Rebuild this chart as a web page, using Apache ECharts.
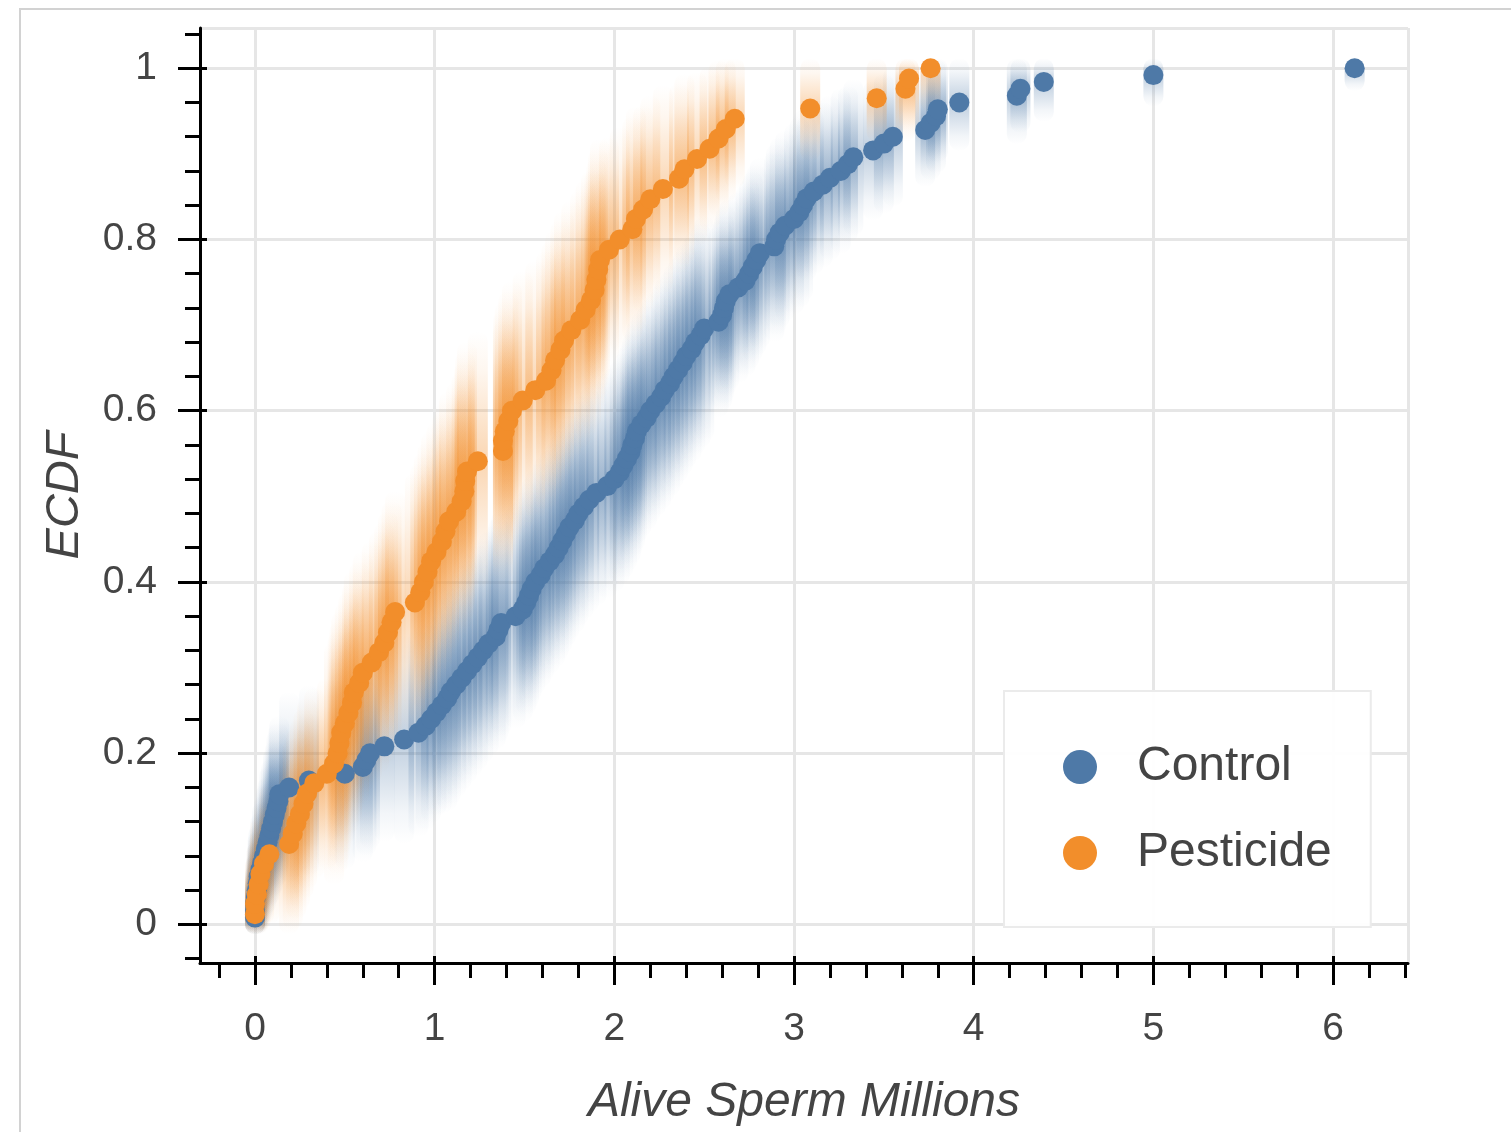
<!DOCTYPE html>
<html>
<head>
<meta charset="utf-8">
<script src="https://cdn.jsdelivr.net/npm/echarts@6/dist/echarts.min.js"></script>
<style>
  html, body { margin: 0; padding: 0; background: #fff; }
  #chart { width: 1511px; height: 1132px; }
</style>
</head>
<body>
<div id="chart"></div>
<script>
// [x, ecdf, spread of the bootstrap column]
var controlPts = [
  [0.0,0.008,0.03],[0.0,0.016,0.03],[0.0,0.024,0.035],[0.005,0.032,0.04],[0.01,0.04,0.045],[0.015,0.048,0.05],[0.02,0.056,0.05],[0.03,0.064,0.055],[0.04,0.072,0.06],[0.05,0.08,0.06],
  [0.06,0.088,0.065],[0.07,0.096,0.065],[0.08,0.104,0.07],[0.09,0.112,0.07],[0.1,0.12,0.075],[0.11,0.128,0.075],[0.12,0.136,0.08],[0.13,0.144,0.08],[0.135,0.152,0.08],[0.19,0.16,0.1],
  [0.3,0.168,0.1],[0.5,0.176,0.1],[0.6,0.184,0.1],[0.62,0.192,0.1],[0.64,0.2,0.1],[0.72,0.208,0.1],[0.83,0.216,0.11],[0.91,0.224,0.11],[0.95,0.232,0.11],[0.98,0.24,0.11],
  [1.01,0.248,0.11],[1.04,0.256,0.115],[1.07,0.264,0.12],[1.09,0.272,0.12],[1.12,0.28,0.12],[1.15,0.288,0.12],[1.18,0.296,0.12],[1.21,0.304,0.12],[1.24,0.312,0.12],[1.27,0.32,0.12],
  [1.3,0.328,0.12],[1.34,0.336,0.12],[1.355,0.344,0.12],[1.37,0.352,0.12],[1.45,0.36,0.12],[1.49,0.368,0.12],[1.51,0.376,0.12],[1.525,0.384,0.12],[1.54,0.392,0.12],[1.56,0.4,0.12],
  [1.59,0.408,0.12],[1.61,0.416,0.12],[1.64,0.424,0.12],[1.67,0.432,0.12],[1.69,0.44,0.12],[1.71,0.448,0.12],[1.73,0.456,0.12],[1.75,0.464,0.12],[1.78,0.472,0.12],[1.8,0.48,0.12],
  [1.83,0.488,0.12],[1.86,0.496,0.12],[1.9,0.504,0.12],[1.96,0.512,0.12],[2.0,0.52,0.12],[2.03,0.528,0.12],[2.05,0.536,0.12],[2.07,0.544,0.12],[2.09,0.552,0.12],[2.1,0.56,0.12],
  [2.115,0.568,0.12],[2.125,0.576,0.12],[2.15,0.584,0.12],[2.18,0.592,0.12],[2.2,0.6,0.12],[2.23,0.608,0.12],[2.26,0.616,0.12],[2.28,0.624,0.12],[2.31,0.632,0.12],[2.33,0.64,0.12],
  [2.355,0.648,0.12],[2.38,0.656,0.12],[2.4,0.664,0.12],[2.43,0.672,0.12],[2.45,0.68,0.12],[2.48,0.688,0.12],[2.5,0.696,0.12],[2.58,0.704,0.1],[2.6,0.712,0.1],[2.61,0.72,0.1],
  [2.62,0.728,0.1],[2.64,0.736,0.1],[2.69,0.744,0.1],[2.73,0.752,0.1],[2.75,0.76,0.1],[2.77,0.768,0.1],[2.79,0.776,0.1],[2.81,0.784,0.1],[2.89,0.792,0.1],[2.9,0.8,0.1],
  [2.92,0.808,0.1],[2.95,0.816,0.1],[3.0,0.824,0.1],[3.03,0.832,0.1],[3.05,0.84,0.1],[3.07,0.848,0.085],[3.11,0.856,0.085],[3.16,0.864,0.085],[3.2,0.872,0.085],[3.26,0.88,0.085],
  [3.3,0.888,0.08],[3.33,0.896,0.08],[3.44,0.904,0.07],[3.5,0.912,0.07],[3.55,0.92,0.07],[3.73,0.928,0.055],[3.76,0.936,0.055],[3.79,0.944,0.055],[3.8,0.952,0.05],[3.92,0.96,0.045],
  [4.24,0.968,0.045],[4.26,0.976,0.04],[4.39,0.984,0.035],[5.0,0.992,0.025],[6.12,1.0,0.015]
];

var pesticidePts = [
  [0.0,0.012,0.04],[0.0,0.024,0.045],[0.01,0.035,0.05],[0.02,0.047,0.05],[0.03,0.059,0.055],[0.05,0.071,0.06],[0.08,0.082,0.07],
  [0.19,0.094,0.1],[0.21,0.106,0.1],[0.23,0.118,0.1],[0.25,0.129,0.1],[0.27,0.141,0.1],[0.29,0.153,0.1],[0.33,0.165,0.1],[0.4,0.176,0.1],
  [0.44,0.188,0.13],[0.46,0.2,0.13],[0.47,0.212,0.13],[0.48,0.224,0.13],[0.5,0.235,0.13],[0.52,0.247,0.13],[0.54,0.259,0.13],[0.55,0.271,0.13],
  [0.58,0.282,0.13],[0.6,0.294,0.13],[0.65,0.306,0.13],[0.69,0.318,0.13],[0.72,0.329,0.13],[0.74,0.341,0.13],[0.76,0.353,0.13],[0.78,0.365,0.13],
  [0.89,0.376,0.14],[0.92,0.388,0.14],[0.94,0.4,0.14],[0.96,0.412,0.14],[0.98,0.424,0.14],[1.01,0.435,0.14],[1.04,0.447,0.14],[1.06,0.459,0.14],
  [1.08,0.471,0.14],[1.12,0.482,0.14],[1.15,0.494,0.14],[1.165,0.506,0.14],[1.17,0.518,0.14],[1.18,0.529,0.14],[1.24,0.541,0.14],
  [1.38,0.553,0.14],[1.38,0.565,0.14],[1.39,0.576,0.14],[1.41,0.588,0.14],[1.43,0.6,0.14],[1.49,0.612,0.14],[1.56,0.624,0.14],[1.62,0.635,0.14],
  [1.65,0.647,0.14],[1.67,0.659,0.14],[1.7,0.671,0.14],[1.72,0.682,0.14],[1.76,0.694,0.14],[1.81,0.706,0.14],[1.84,0.718,0.14],[1.87,0.729,0.14],
  [1.89,0.741,0.13],[1.9,0.753,0.13],[1.91,0.765,0.13],[1.92,0.776,0.13],[1.97,0.788,0.12],[2.03,0.8,0.12],[2.1,0.812,0.12],[2.12,0.824,0.12],
  [2.16,0.835,0.11],[2.2,0.847,0.11],[2.27,0.859,0.11],[2.36,0.871,0.1],[2.39,0.882,0.1],[2.46,0.894,0.09],[2.53,0.906,0.085],[2.58,0.918,0.08],
  [2.62,0.929,0.075],[2.67,0.941,0.07],
  [3.09,0.953,0.05],[3.46,0.965,0.04],[3.62,0.976,0.05],[3.64,0.988,0.05],[3.76,1.0,0.04]
];

var xMajor = [0, 1, 2, 3, 4, 5, 6];
var xMinor = [-0.2, 0.2, 0.4, 0.6, 0.8, 1.2, 1.4, 1.6, 1.8, 2.2, 2.4, 2.6, 2.8, 3.2, 3.4, 3.6, 3.8,
              4.2, 4.4, 4.6, 4.8, 5.2, 5.4, 5.6, 5.8, 6.2, 6.4];
var yMajor = [0, 0.2, 0.4, 0.6, 0.8, 1];
var yMinor = [-0.04, 0.04, 0.08, 0.12, 0.16, 0.24, 0.28, 0.32, 0.36, 0.44, 0.48, 0.52, 0.56,
              0.64, 0.68, 0.72, 0.76, 0.84, 0.88, 0.92, 0.96, 1.04];

var X_MIN = -0.306, X_MAX = 6.417;
var Y_MIN = -0.045, Y_MAX = 1.047;
var FONT = '"Liberation Sans", Arial, Helvetica, sans-serif';
var BLUE = '#4e79a7', ORANGE = '#f28e2b';
var DOT = 20;

// faint vertical column standing for the bootstrap replicates at one x value
function bandItem(rgb, alpha) {
  return function (params, api) {
    var x = api.value(0), y = api.value(1), d = api.value(2);
    var hi = Math.min(y + d, 1), lo = Math.max(y - d, 0);
    var pTop = api.coord([x, hi]), pBot = api.coord([x, lo]), pMid = api.coord([x, y]);
    var top = pTop[1] - DOT / 2;
    var h = (pBot[1] - pTop[1]) + DOT;
    var m = (pMid[1] - top) / h;
    var c = 'rgba(' + rgb + ',';
    return {
      type: 'rect',
      shape: { x: pMid[0] - DOT / 2, y: top, width: DOT, height: h, r: DOT / 2 },
      style: {
        fill: new echarts.graphic.LinearGradient(0, 0, 0, 1, [
          { offset: 0, color: c + '0)' },
          { offset: m * 0.3, color: c + (alpha * 0.2) + ')' },
          { offset: m * 0.65, color: c + (alpha * 0.6) + ')' },
          { offset: m, color: c + alpha + ')' },
          { offset: m + (1 - m) * 0.35, color: c + (alpha * 0.6) + ')' },
          { offset: m + (1 - m) * 0.7, color: c + (alpha * 0.2) + ')' },
          { offset: 1, color: c + '0)' }
        ])
      }
    };
  };
}

var tickLine = { color: '#000', width: 3 };

// axes that only carry ticks, laid over the main ones
function tickAxis(type, values, len, inside) {
  return {
    type: 'value',
    position: type === 'x' ? 'bottom' : 'left',
    offset: 0,
    min: type === 'x' ? X_MIN : Y_MIN,
    max: type === 'x' ? X_MAX : Y_MAX,
    axisLine: { show: false, onZero: false },
    axisTick: { show: true, inside: inside, customValues: values, length: len, lineStyle: tickLine },
    axisLabel: { show: false },
    splitLine: { show: false }
  };
}

var chart = echarts.init(document.getElementById('chart'));

var option = {
  animation: false,
  backgroundColor: '#fff',
  textStyle: { fontFamily: FONT },
  graphic: [{
    type: 'rect',
    z: -10,
    shape: { x: 20, y: 9, width: 1600, height: 1300 },
    style: { fill: 'none', stroke: '#d2d2d2', lineWidth: 2 }
  }],
  grid: { left: 200, right: 103, top: 28, bottom: 167 },
  legend: {
    data: ['Control', 'Pesticide'],
    orient: 'vertical',
    left: 1004,
    top: 691,
    padding: [52, 39, 50, 59],
    itemWidth: 34,
    itemHeight: 34,
    itemGap: 38,
    icon: 'circle',
    selectedMode: false,
    backgroundColor: 'rgba(255,255,255,0.95)',
    borderColor: '#ebebeb',
    borderWidth: 2,
    textStyle: { fontSize: 48, lineHeight: 48, color: '#444', fontFamily: FONT, padding: [0, 0, 0, 35] }
  },
  xAxis: [
    {
      type: 'value',
      position: 'bottom',
      min: X_MIN,
      max: X_MAX,
      splitNumber: 6,
      name: 'Alive Sperm Millions',
      nameLocation: 'middle',
      nameGap: 116,
      nameTextStyle: { fontSize: 48, fontStyle: 'italic', color: '#444', fontFamily: FONT },
      axisLine: { show: true, onZero: false, lineStyle: tickLine },
      axisTick: { show: false },
      axisLabel: { customValues: xMajor, margin: 47, fontSize: 39, color: '#444', fontFamily: FONT },
      splitLine: { show: true, lineStyle: { color: '#e6e6e6', width: 3 } }
    },
    tickAxis('x', xMajor, 22, false),
    tickAxis('x', xMajor, 7, true),
    tickAxis('x', xMinor, 15, false)
  ],
  yAxis: [
    {
      type: 'value',
      position: 'left',
      min: Y_MIN,
      max: Y_MAX,
      splitNumber: 5,
      name: 'ECDF',
      nameLocation: 'middle',
      nameGap: 112,
      nameRotate: 90,
      nameTextStyle: { fontSize: 47, fontStyle: 'italic', color: '#444', fontFamily: FONT },
      axisLine: { show: true, onZero: false, lineStyle: tickLine },
      axisTick: { show: false },
      axisLabel: {
        customValues: yMajor, margin: 43, fontSize: 39, color: '#444', fontFamily: FONT,
        formatter: function (v) { return String(v); }
      },
      splitLine: { show: true, lineStyle: { color: '#e6e6e6', width: 3 } }
    },
    tickAxis('y', yMajor, 22, false),
    tickAxis('y', yMajor, 7, true),
    tickAxis('y', yMinor, 15, false)
  ],
  series: [
    {
      name: 'Control bootstrap',
      type: 'custom',
      silent: true,
      clip: true,
      z: 1,
      encode: { x: 0, y: 1 },
      renderItem: bandItem('78,121,167', 0.36),
      data: controlPts
    },
    {
      name: 'Pesticide bootstrap',
      type: 'custom',
      silent: true,
      clip: true,
      z: 1,
      encode: { x: 0, y: 1 },
      renderItem: bandItem('242,142,43', 0.36),
      data: pesticidePts
    },
    {
      name: 'Control',
      type: 'scatter',
      symbol: 'circle',
      symbolSize: DOT,
      z: 2,
      encode: { x: 0, y: 1 },
      itemStyle: { color: BLUE, opacity: 1 },
      data: controlPts
    },
    {
      name: 'Pesticide',
      type: 'scatter',
      symbol: 'circle',
      symbolSize: DOT,
      z: 2,
      encode: { x: 0, y: 1 },
      itemStyle: { color: ORANGE, opacity: 1 },
      data: pesticidePts
    }
  ]
};

chart.setOption(option);
</script>
</body>
</html>
